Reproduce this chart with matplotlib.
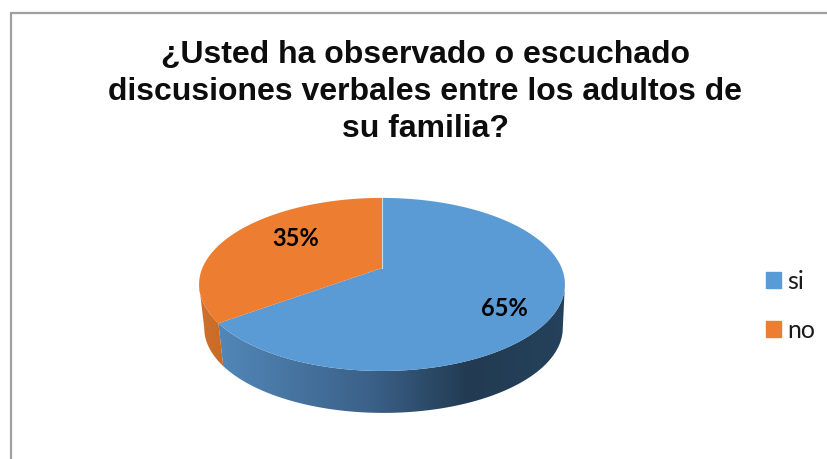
import numpy as np
import matplotlib
matplotlib.use('Agg')
import matplotlib.pyplot as plt
from matplotlib.colors import LinearSegmentedColormap
from matplotlib.patches import Patch, Polygon

# chart data
categories = ['si', 'no']
shares = [65, 35]
labels = ['65%', '35%']
title = '¿Usted ha observado o escuchado\ndiscusiones verbales entre los adultos de\nsu familia?'

top_colors = ['#5b9bd5', '#ed7d31']

# pie geometry in picture pixels
cx, apex_y = 382, 268
sx, sy, k = 179.6, 83.4, 0.19
shrink, depth, drift = 0.98, 44, 1.5


def rim(theta, bottom=False):
    # theta is clockwise from the back of the pie, seen with a little perspective
    u, v = np.sin(theta), np.cos(theta)
    w = 1 + k * v
    x, y = sx * u / w, -sy * v / w
    if bottom:
        return cx + drift + x * shrink, apex_y + depth + y * shrink
    return cx + x, apex_y + y


fig = plt.figure(figsize=(8.27, 4.59), dpi=100)
ax = fig.add_axes([0, 0, 1, 1])
ax.axis('off')

# cumulative angles of the slices
edges = np.radians(np.concatenate([[0], np.cumsum(shares)]) * 360 / sum(shares))
# where the rim turns back, the side of the pie stops there
turn = np.arccos(-k)


def side(a, b, cmap):
    t = np.linspace(a, b, 200)
    xt, yt = rim(t)
    xb, yb = rim(t[::-1], bottom=True)
    pts = np.column_stack([np.concatenate([xt, xb]), np.concatenate([yt, yb])])
    poly = Polygon(pts, closed=True, fc='none', ec='none')
    ax.add_patch(poly)
    im = ax.imshow(np.linspace(0, 1, 256).reshape(1, -1), cmap=cmap, aspect='auto',
                   extent=[pts[:, 0].min(), pts[:, 0].max(), 0, 459], zorder=1)
    im.set_clip_path(poly)


blue_side = LinearSegmentedColormap.from_list(
    'blue_side', [(0, '#5287b8'), (0.45, '#3a6087'), (0.72, '#223b52'), (1, '#25415b')])
orange_side = LinearSegmentedColormap.from_list('orange_side', ['#d0702c', '#c66c28'])

side(turn, edges[1], blue_side)
side(edges[1], 2 * np.pi - turn, orange_side)

# top faces of the slices
for i in range(len(shares)):
    t = np.linspace(edges[i], edges[i + 1], 300)
    xt, yt = rim(t)
    ax.fill(np.r_[cx, xt], np.r_[apex_y, yt], color=top_colors[i], lw=0, zorder=2)

# pale seam where the two slices meet at the back
xs, ys = rim(edges[0])
ax.plot([cx, xs], [apex_y, ys], color='#c4dcf2', lw=0.8, zorder=2.5)

ax.text(504, 308, labels[0], fontsize=17, fontweight='bold', family='Lato',
        ha='center', va='center', zorder=3)
ax.text(296, 238, labels[1], fontsize=17, fontweight='bold', family='Lato',
        ha='center', va='center', zorder=3)

ax.text(425.5, 92, title, fontsize=23.05, fontweight='bold', family='Liberation Sans',
        ha='center', va='center', linespacing=1.32, color='#0d0d0d')

# chart frame, only left and top show
ax.plot([10.5, 10.5, 827], [459, 12.5, 12.5], color='#a0a0a0', lw=1.6, solid_joinstyle='miter')

handles = [Patch(color=c, label=n) for c, n in zip(top_colors, categories)]
ax.legend(handles=handles, loc='center left', bbox_to_anchor=(766 / 827, 1 - 306 / 459),
          frameon=False, prop={'family': 'Lato', 'size': 18}, handlelength=0.6,
          handleheight=0.6, handletextpad=0.26, labelspacing=1.05, borderpad=0,
          borderaxespad=0, labelcolor='#1a1a1a')

ax.set_xlim(0, 827)
ax.set_ylim(459, 0)

fig.savefig('out.png', dpi=100)
